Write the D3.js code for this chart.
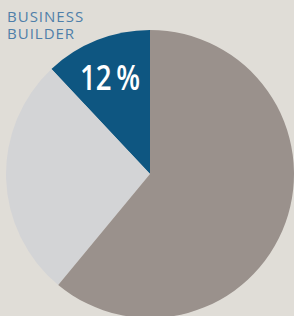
<!DOCTYPE html>
<html>
<head>
<meta charset="utf-8">
<script src="https://cdn.jsdelivr.net/npm/d3@7"></script>
<style>
  html, body { margin: 0; padding: 0; background: #e0ddd7; }
  svg { display: block; }
</style>
</head>
<body>
<div id="chart"></div>
<script>
const labels = ['Business Builder', 'Other A', 'Other B'];
const values = [12, 27, 61];
const colors = ['#0e5681', '#d3d4d6', '#9a918c'];
const titleLines = ['BUSINESS', 'BUILDER'];
const bigLabel = '12\u2009%';

const w = 294, h = 316;
const cx = 150, cy = 174, r = 144;

const svg = d3.select('#chart')
  .append('svg')
  .attr('width', w)
  .attr('height', h);

svg.append('rect')
  .attr('width', w)
  .attr('height', h)
  .attr('fill', '#e0ddd7');

// counterclockwise from 12 o'clock
const pie = d3.pie()
  .sort(null)
  .startAngle(0)
  .endAngle(-2 * Math.PI)
  .value(d => d);

const arc = d3.arc().innerRadius(0).outerRadius(r);

const g = svg.append('g')
  .attr('transform', 'translate(' + cx + ',' + cy + ')');

g.selectAll('path')
  .data(pie(values))
  .enter()
  .append('path')
  .attr('d', arc)
  .attr('fill', (d, i) => colors[i]);

svg.append('text')
  .style('font-family', 'Open Sans')
  .style('font-weight', '400')
  .style('font-size', '15px')
  .style('letter-spacing', '1px')
  .attr('fill', '#4f7fa9')
  .selectAll('tspan')
  .data(titleLines)
  .enter()
  .append('tspan')
  .attr('x', 7)
  .attr('y', (d, i) => 22 + i * 16.5)
  .text(d => d);

svg.append('text')
  .attr('x', 80)
  .attr('y', 90)
  .attr('textLength', 60)
  .attr('lengthAdjust', 'spacingAndGlyphs')
  .style('font-family', 'Open Sans')
  .style('font-weight', '600')
  .style('font-size', '34px')
  .attr('fill', '#ffffff')
  .text(bigLabel);
</script>
</body>
</html>
